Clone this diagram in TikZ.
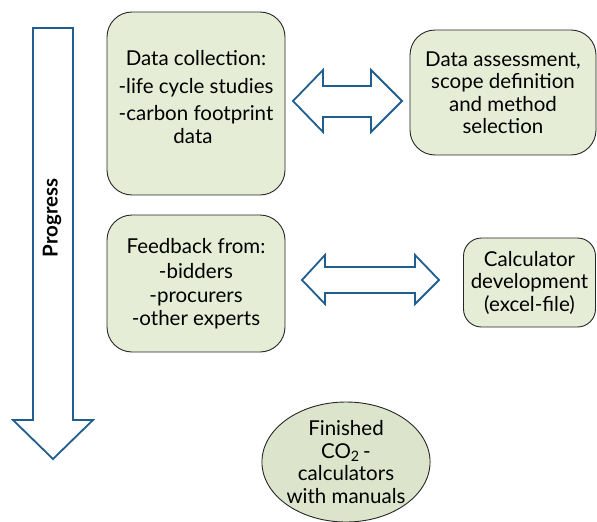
\documentclass[tikz,border=0pt]{standalone}
\usepackage{fontspec}
\setmainfont{Lato}
\usetikzlibrary{positioning}
\usetikzlibrary{shapes.geometric}
\definecolor{boxfill}{HTML}{E6EDD6}
\definecolor{ovalfill}{HTML}{DCE5CB}
\definecolor{arrowblue}{HTML}{1F5E8E}
\tikzset{stepbox/.style = {draw=black!85, fill=boxfill, rounded corners=25, align=center, inner sep=0, line width=0.9}}
\tikzset{blockarrow/.style = {draw=arrowblue, line width=1.8, line join=miter, fill=white}}

\begin{document}
\begin{tikzpicture}[x=1pt, y=-1pt, font=\fontsize{20.5}{22.5}\selectfont]
    \useasboundingbox (0,0) rectangle (597,522);
    % progress arrow down the left side
    \draw[blockarrow] (33,28) -- (73,28) -- (73,420) -- (93,420) -- (53,459)
        -- (13,420) -- (33,420) -- cycle;
    \node[rotate=90, font=\fontsize{20.5}{22}\selectfont\bfseries] (prog) at (52,218) {Progress};
    % the boxes
    \node[stepbox, text depth=13, minimum width=178, minimum height=183] (collect) at (196,103.5)
        {Data collection:\\[5pt] -life cycle studies\\[5pt] -carbon footprint\\ data\hspace*{6pt}};
    \node[stepbox, minimum width=186, minimum height=125] (assess) at (503,92.5)
        {Data assessment,\\ scope definition\\ and method\\ selection};
    \node[stepbox, minimum width=178, minimum height=137] (feedback) at (196,283.5)
        {Feedback from:\\[2pt] -bidders\\[2pt] -procurers\\ -other experts};
    \node[stepbox, rounded corners=18, minimum width=132, minimum height=89] (calc) at (529.5,282.5)
        {Calculator\\ development\\ (excel-file)};
    \node[ellipse, draw=black!85, fill=ovalfill, line width=0.9, align=center, inner sep=0,
        minimum width=160, minimum height=120] (finished) at (346,462)
        {Finished\\ CO\textsubscript{2}\,-\\ calculators\\ with manuals};
    % two-way arrows between the boxes
    \draw[blockarrow] (293,101) -- (323,70) -- (323,86) -- (371,86) -- (371,70) -- (402,101)
        -- (371,132) -- (371,117) -- (323,117) -- (323,132) -- cycle;
    \draw[blockarrow] (302,280) -- (325,255) -- (325,267) -- (415,267) -- (415,255) -- (439,280)
        -- (415,304) -- (415,293) -- (325,293) -- (325,304) -- cycle;
\end{tikzpicture}
\end{document}
